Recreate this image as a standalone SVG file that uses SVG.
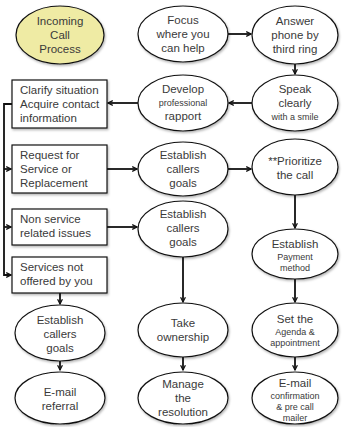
<svg xmlns="http://www.w3.org/2000/svg" width="344" height="427" viewBox="0 0 344 427">
<defs>
<marker id="ah" viewBox="0 0 10 10" refX="9" refY="5" markerWidth="6" markerHeight="6" orient="auto" markerUnits="userSpaceOnUse">
<path d="M1,1 L9,5 L1,9" fill="none" stroke="#111" stroke-width="2"/>
</marker>
<filter id="sh" x="-20%" y="-20%" width="140%" height="140%">
<feDropShadow dx="1" dy="1.5" stdDeviation="1.2" flood-color="#000" flood-opacity="0.3"/>
</filter>
</defs>
<style>
.n{fill:#fff;stroke:#111;stroke-width:1.2;filter:url(#sh)}
.y{fill:#efeba4}
text{font-family:"Liberation Sans",Arial,sans-serif;font-size:11.5px;fill:#3a3a3a}
.c{text-anchor:middle}
.s{font-size:9px}
.e path{fill:none;stroke:#111;stroke-width:1.8;marker-end:url(#ah)}
</style>
<rect width="344" height="427" fill="#fff"/>
<g class="e" id="connectors">
<path d="M228,34 H251"/>
<path d="M295,64 V74"/>
<path d="M252,103 H229"/>
<path d="M138,103 H108"/>
<path d="M12,104 H4 V275 H11"/>
<path d="M4,169 H11"/>
<path d="M4,227 H11"/>
<path d="M107,169 H137"/>
<path d="M107,227 H137"/>
<path d="M228,169 H251"/>
<path d="M295,195 V228"/>
<path d="M295,279 V302"/>
<path d="M295,357 V370"/>
<path d="M183,257 V302"/>
<path d="M183,357 V370"/>
<path d="M60,293 V304"/>
<path d="M60,361 V370"/>
</g>
<g id="incoming"><ellipse class="n y" cx="60" cy="35" rx="44" ry="29"/>
<text class="c" x="60" y="25">Incoming</text><text class="c" x="60" y="39">Call</text><text class="c" x="60" y="53">Process</text></g>
<g id="focus"><ellipse class="n" cx="183" cy="34" rx="45" ry="28"/>
<text class="c" x="183" y="24">Focus</text><text class="c" x="183" y="38">where you</text><text class="c" x="183" y="52">can help</text></g>
<g id="answer"><ellipse class="n" cx="295" cy="35" rx="43" ry="29"/>
<text class="c" x="295" y="25">Answer</text><text class="c" x="295" y="39">phone by</text><text class="c" x="295" y="53">third ring</text></g>
<g id="speak"><ellipse class="n" cx="295" cy="103" rx="43" ry="28"/>
<text class="c" x="295" y="93">Speak</text><text class="c" x="295" y="107">clearly</text><text class="c s" x="295" y="120">with a smile</text></g>
<g id="develop"><ellipse class="n" cx="183" cy="103" rx="45" ry="28"/>
<text class="c" x="183" y="93">Develop</text><text class="c s" x="183" y="106">professional</text><text class="c" x="183" y="120">rapport</text></g>
<g id="clarify"><rect class="n" x="12" y="80" width="95" height="48"/>
<text x="20" y="94">Clarify situation</text><text x="20" y="108">Acquire contact</text><text x="20" y="122">information</text></g>
<g id="request"><rect class="n" x="12" y="145" width="95" height="48"/>
<text x="20" y="159">Request for</text><text x="20" y="173">Service or</text><text x="20" y="187">Replacement</text></g>
<g id="nonservice"><rect class="n" x="12" y="209" width="95" height="36"/>
<text x="20" y="223">Non service</text><text x="20" y="237">related issues</text></g>
<g id="notoffered"><rect class="n" x="12" y="257" width="95" height="36"/>
<text x="20" y="271">Services not</text><text x="20" y="285">offered by you</text></g>
<g id="goals1"><ellipse class="n" cx="183" cy="169" rx="45" ry="27"/>
<text class="c" x="183" y="159">Establish</text><text class="c" x="183" y="173">callers</text><text class="c" x="183" y="187">goals</text></g>
<g id="goals2"><ellipse class="n" cx="183" cy="229" rx="45" ry="28"/>
<text class="c" x="183" y="218">Establish</text><text class="c" x="183" y="232">callers</text><text class="c" x="183" y="246">goals</text></g>
<g id="prioritize"><ellipse class="n" cx="295" cy="167" rx="43" ry="28"/>
<text class="c" x="295" y="165">**Prioritize</text><text class="c" x="295" y="179">the call</text></g>
<g id="payment"><ellipse class="n" cx="295" cy="254" rx="43" ry="25"/>
<text class="c" x="295" y="248">Establish</text><text class="c s" x="295" y="260">Payment</text><text class="c s" x="295" y="271">method</text></g>
<g id="agenda"><ellipse class="n" cx="295" cy="330" rx="43" ry="27"/>
<text class="c" x="295" y="323">Set the</text><text class="c s" x="295" y="335">Agenda &amp;</text><text class="c s" x="295" y="346">appointment</text></g>
<g id="emailconf"><ellipse class="n" cx="295" cy="398" rx="43" ry="26"/>
<text class="c" x="295" y="387">E-mail</text><text class="c s" x="295" y="399">confirmation</text><text class="c s" x="295" y="410">&amp; pre call</text><text class="c s" x="295" y="421">mailer</text></g>
<g id="ownership"><ellipse class="n" cx="183" cy="330" rx="45" ry="27"/>
<text class="c" x="183" y="327">Take</text><text class="c" x="183" y="341">ownership</text></g>
<g id="manage"><ellipse class="n" cx="183" cy="398" rx="45" ry="26"/>
<text class="c" x="183" y="388">Manage</text><text class="c" x="183" y="402">the</text><text class="c" x="183" y="416">resolution</text></g>
<g id="goals3"><ellipse class="n" cx="60" cy="333" rx="45" ry="28"/>
<text class="c" x="60" y="324">Establish</text><text class="c" x="60" y="338">callers</text><text class="c" x="60" y="352">goals</text></g>
<g id="referral"><ellipse class="n" cx="60" cy="398" rx="45" ry="26"/>
<text class="c" x="60" y="396">E-mail</text><text class="c" x="60" y="410">referral</text></g>
</svg>
